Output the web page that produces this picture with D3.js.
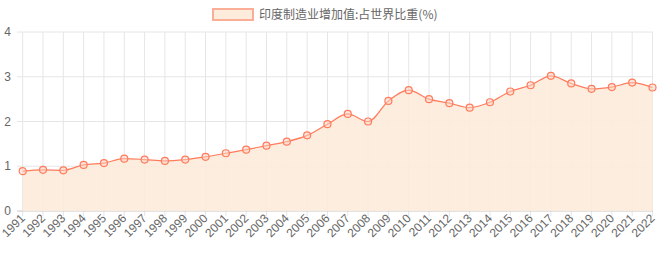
<!DOCTYPE html>
<html>
<head>
<meta charset="utf-8">
<script src="https://cdn.jsdelivr.net/npm/d3@7"></script>
<style>
  body { margin: 0; background: #fff; }
  svg text { font-family: "Liberation Sans", Arial, "Noto Sans CJK SC", sans-serif; fill: #666; }
  svg text.legend { font-family: "Noto Sans CJK SC", sans-serif; }
</style>
</head>
<body>
<div id="chart"></div>
<script>
// Data
var years = ["1991","1992","1993","1994","1995","1996","1997","1998","1999","2000",
             "2001","2002","2003","2004","2005","2006","2007","2008","2009","2010",
             "2011","2012","2013","2014","2015","2016","2017","2018","2019","2020",
             "2021","2022"];
var shares = [0.89, 0.92, 0.91, 1.03, 1.07, 1.17, 1.15, 1.12, 1.15, 1.21,
              1.29, 1.37, 1.46, 1.55, 1.69, 1.94, 2.17, 2.00, 2.46, 2.70,
              2.50, 2.41, 2.31, 2.43, 2.67, 2.81, 3.02, 2.85, 2.73, 2.77,
              2.87, 2.76];
var yTicks = [0, 1, 2, 3, 4];
var seriesName = "印度制造业增加值:占世界比重(%)";

var width = 660, height = 260;
var margin = {top: 32, right: 7, bottom: 49, left: 22};
var innerW = width - margin.left - margin.right,
    innerH = height - margin.top - margin.bottom;

var lineColor = "#ff7b5c",
    areaColor = "#fdebdc";

var svg = d3.select("#chart").append("svg")
    .attr("width", width)
    .attr("height", height);

// legend
var legend = svg.append("g").attr("transform", "translate(213,9)");
legend.append("rect")
    .attr("width", 40).attr("height", 11)
    .attr("fill", areaColor)
    .attr("stroke", "#fbae96")
    .attr("stroke-width", 2);
legend.append("text")
    .attr("class", "legend")
    .attr("x", 46).attr("y", 10)
    .attr("font-size", 12)
    .text(seriesName);

var g = svg.append("g")
    .attr("transform", "translate(" + margin.left + "," + margin.top + ")");

var x = d3.scalePoint().domain(years).range([0.7, innerW - 0.5]);
var y = d3.scaleLinear().domain([0, 4]).range([innerH, 0]);

// vertical grid
g.append("g")
    .selectAll("line")
    .data(years)
    .join("line")
    .attr("x1", function(d) { return x(d); })
    .attr("x2", function(d) { return x(d); })
    .attr("y1", 0)
    .attr("y2", innerH + 5)
    .attr("stroke", "#e6e6e6");

// horizontal grid
g.append("g")
    .selectAll("line")
    .data(yTicks)
    .join("line")
    .attr("x1", -5)
    .attr("x2", innerW)
    .attr("y1", function(d) { return y(d); })
    .attr("y2", function(d) { return y(d); })
    .attr("stroke", function(d) { return d === 0 ? "#c8c8c8" : "#e6e6e6"; });

// area + line
var data = years.map(function(yr, i) { return {year: yr, v: shares[i]}; });

var area = d3.area()
    .x(function(d) { return x(d.year); })
    .y0(y(0))
    .y1(function(d) { return y(d.v); })
    .curve(d3.curveMonotoneX);

var line = d3.line()
    .x(function(d) { return x(d.year); })
    .y(function(d) { return y(d.v); })
    .curve(d3.curveMonotoneX);

g.append("path")
    .attr("d", area(data))
    .attr("fill", areaColor)
    .attr("opacity", 0.9);

g.append("path")
    .attr("d", line(data))
    .attr("fill", "none")
    .attr("stroke", lineColor)
    .attr("stroke-width", 1.2);

g.append("g")
    .selectAll("circle")
    .data(data)
    .join("circle")
    .attr("cx", function(d) { return x(d.year); })
    .attr("cy", function(d) { return y(d.v); })
    .attr("r", 3.5)
    .attr("fill", "#fcd3c3")
    .attr("fill-opacity", 0.5)
    .attr("stroke", lineColor)
    .attr("stroke-width", 1.2);

// y labels
g.append("g")
    .selectAll("text")
    .data(yTicks)
    .join("text")
    .attr("x", -11)
    .attr("y", function(d) { return y(d) + 4; })
    .attr("text-anchor", "end")
    .attr("font-size", 12)
    .text(function(d) { return d; });

// x labels, rotated
g.append("g")
    .selectAll("text")
    .data(years)
    .join("text")
    .attr("transform", function(d) {
        return "translate(" + (x(d) + 3) + "," + (innerH + 8) + ") rotate(-45)";
    })
    .attr("text-anchor", "end")
    .attr("font-size", 12)
    .text(function(d) { return d; });
</script>
</body>
</html>
